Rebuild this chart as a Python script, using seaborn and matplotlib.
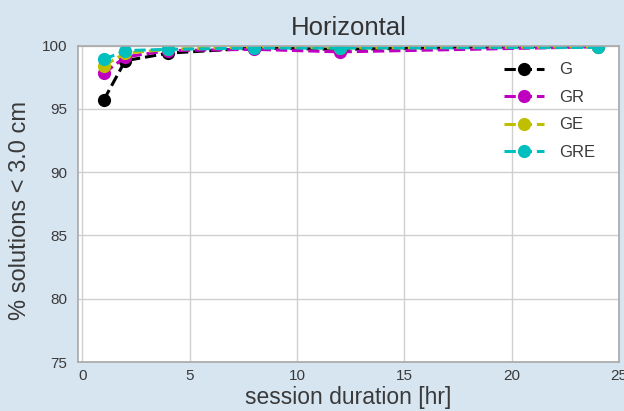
import numpy as np
import pandas as pd
import seaborn as sns
import matplotlib
matplotlib.use("Agg")
import matplotlib.pyplot as plt

hours = [1, 2, 4, 8, 12, 24]
g_vals = [95.7, 98.8, 99.4, 99.8, 99.7, 100.0]
gr_vals = [97.8, 99.1, 99.6, 99.7, 99.5, 99.9]
ge_vals = [98.4, 99.4, 99.7, 99.9, 99.8, 99.9]
gre_vals = [98.9, 99.6, 99.7, 99.8, 99.8, 99.85]
series_names = ["G", "GR", "GE", "GRE"]
colors = ["black", "#c000c0", "#bfbf00", "#00bfbf"]
x_ticks = [0, 5, 10, 15, 20, 25]
y_ticks = [75, 80, 85, 90, 95, 100]

rows = []
for name, vals in zip(series_names, [g_vals, gr_vals, ge_vals, gre_vals]):
    for h, v in zip(hours, vals):
        rows.append({"hours": h, "pct": v, "method": name})
df = pd.DataFrame(rows)

sns.set_style("whitegrid")
plt.rcParams['font.family'] = ['Liberation Sans', 'DejaVu Sans']

fig = plt.figure(figsize=(6.24, 4.11), dpi=100, facecolor="#d7e5f1")
ax = fig.add_axes([0.125, 0.1192, 0.867, 0.770])
ax.set_facecolor("white")

for name, col in zip(series_names, colors):
    sub = df[df["method"] == name]
    sns.lineplot(data=sub, x="hours", y="pct", ax=ax, color=col, marker="o",
                 markersize=9.5, markeredgewidth=0, linestyle="--", linewidth=2.2,
                 label=name)

ax.set_xlim(-0.2, 25)
ax.set_ylim(75, 100)
ax.set_xticks(x_ticks)
ax.set_yticks(y_ticks)
ax.tick_params(axis="both", labelsize=11, colors="#3a3a3a", length=0)
ax.tick_params(axis="x", pad=5)
ax.tick_params(axis="y", pad=8)
ax.set_xlabel("session duration [hr]", fontsize=16.5, color="#3a3a3a", labelpad=2)
ax.set_ylabel("% solutions < 3.0 cm", fontsize=17, color="#3a3a3a")
ax.yaxis.set_label_coords(-0.086, 0.48)
ax.set_title("Horizontal", fontsize=18.5, color="#333333", pad=7.5)
ax.grid(True, color="#d0d0d0", linewidth=1)
for s in ax.spines.values():
    s.set_color("#a8a8a8")
    s.set_linewidth(1.2)

leg = ax.legend(loc="upper left", frameon=False, fontsize=12,
                bbox_to_anchor=(0.772, 0.973), borderpad=0, handlelength=2.4,
                labelspacing=0.75, handletextpad=0.9)
for t in leg.get_texts():
    t.set_color("#3a3a3a")

fig.savefig("out.png", dpi=100, facecolor=fig.get_facecolor())
